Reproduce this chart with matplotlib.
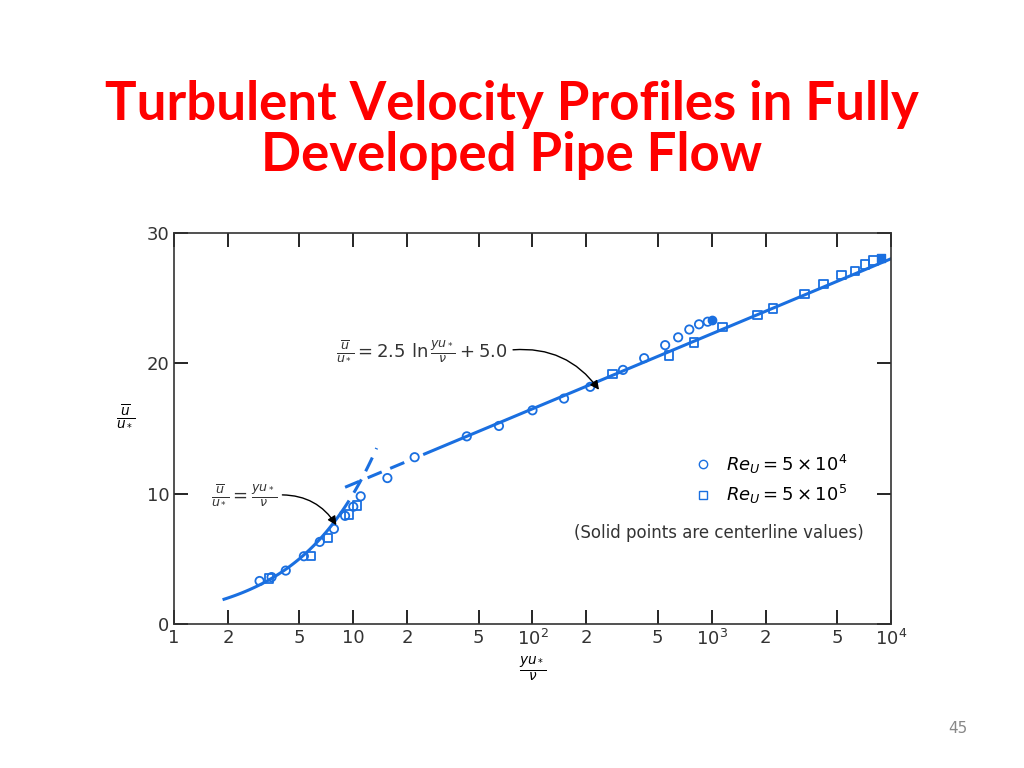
import numpy as np
import matplotlib.pyplot as plt
from matplotlib.lines import Line2D

# data
circ_x = [3.0, 3.5, 4.2, 5.3, 6.5, 7.8, 9.0, 10.0, 11.0, 15.5, 22, 43, 65, 100, 150, 210, 320, 420, 550, 650, 750, 850, 950]
circ_u = [3.3, 3.6, 4.1, 5.2, 6.3, 7.3, 8.3, 9.0, 9.8, 11.2, 12.8, 14.4, 15.2, 16.4, 17.3, 18.2, 19.5, 20.4, 21.4, 22.0, 22.6, 23.0, 23.2]
circ_solid = (1000, 23.3)
sq_x = [3.4, 5.8, 7.2, 9.5, 10.5, 280, 580, 800, 1150, 1800, 2200, 3300, 4200, 5300, 6300, 7200, 8000]
sq_u = [3.5, 5.2, 6.6, 8.4, 9.1, 19.2, 20.6, 21.6, 22.8, 23.7, 24.2, 25.3, 26.1, 26.8, 27.1, 27.6, 27.9]
sq_solid = (8800, 28.1)
blue = '#1a6fe0'

fig = plt.figure(figsize=(10.24, 7.68), dpi=100)
fig.text(0.5, 0.831, 'Turbulent Velocity Profiles in Fully\nDeveloped Pipe Flow', ha='center', va='center',
         color='#ff0000', fontsize=38, fontweight='bold', family='Lato', linespacing=1.05)
fig.text(0.935, 0.045, '45', color='#888888', fontsize=11, ha='center')

ax = fig.add_axes([0.170, 0.1875, 0.700, 0.509])
ax.set_xscale('log')
ax.set_xlim(1, 1e4)
ax.set_ylim(0, 30)

# viscous sublayer u = y
y1 = np.logspace(np.log10(1.9), np.log10(8.5), 50)
ax.plot(y1, y1, color=blue, lw=2.2)
y2 = np.logspace(np.log10(8.5), np.log10(13.5), 20)
ax.plot(y2, y2, color=blue, lw=2.2, ls=(0, (5, 3)))
# log law
ylog = np.logspace(np.log10(9), np.log10(21), 30)
ax.plot(ylog, 2.5 * np.log(ylog) + 5.0, color=blue, lw=2.2, ls=(0, (5, 3)))
ylog2 = np.logspace(np.log10(25), 4, 50)
ax.plot(ylog2, 2.5 * np.log(ylog2) + 5.0, color=blue, lw=2.2)

ax.scatter(circ_x, circ_u, s=36, facecolors='none', edgecolors=blue, marker='o', lw=1.3, zorder=3)
ax.scatter(sq_x, sq_u, s=36, facecolors='none', edgecolors=blue, marker='s', lw=1.3, zorder=3)
ax.scatter(*circ_solid, s=36, color=blue, marker='o', zorder=3)
ax.scatter(*sq_solid, s=36, color=blue, marker='s', zorder=3)

ax.annotate(r'$\frac{\overline{u}}{u_*} = 2.5\ \ln\frac{yu_*}{\nu} + 5.0$', xy=(240, 17.8), xytext=(8, 21),
            fontsize=13, va='center', color='#333333',
            arrowprops=dict(arrowstyle='-|>', color='black', lw=1, relpos=(1, 0.5),
                            connectionstyle='arc3,rad=-0.3'))
ax.annotate(r'$\frac{\overline{u}}{u_*} = \frac{yu_*}{\nu}$', xy=(8.2, 7.4), xytext=(1.6, 9.9),
            fontsize=13, va='center', color='#333333',
            arrowprops=dict(arrowstyle='-|>', color='black', lw=1, relpos=(1, 0.5),
                            connectionstyle='arc3,rad=-0.3'))

handles = [Line2D([], [], ls='none', marker='o', mfc='none', mec=blue, ms=6),
           Line2D([], [], ls='none', marker='s', mfc='none', mec=blue, ms=6)]
ax.legend(handles, [r'$Re_U = 5\times10^4$', r'$Re_U = 5\times10^5$'], loc='center left',
          bbox_to_anchor=(0.69, 0.37), frameon=False, fontsize=13, handletextpad=0.3, labelspacing=0.4)
ax.text(0.76, 0.233, '(Solid points are centerline values)', transform=ax.transAxes, ha='center',
        va='center', fontsize=12, color='#333333')

xt = [1, 2, 5, 10, 20, 50, 100, 200, 500, 1000, 2000, 5000, 10000]
xl = ['1', '2', '5', '10', '2', '5', r'$10^2$', '2', '5', r'$10^3$', '2', '5', r'$10^4$']
ax.set_xticks(xt)
ax.set_xticklabels(xl)
ax.minorticks_off()
ax.set_yticks([0, 10, 20, 30])
ax.tick_params(direction='in', top=True, right=True, length=10, labelsize=13, labelcolor='#333333', width=1.2)
for s in ax.spines.values():
    s.set_color('#333333')
    s.set_linewidth(1.2)
ax.set_xlabel(r'$\frac{yu_*}{\nu}$', fontsize=14)
ax.set_ylabel(r'$\frac{\overline{u}}{u_*}$', fontsize=14, rotation=0, labelpad=15)

plt.savefig('out.png', dpi=100)
